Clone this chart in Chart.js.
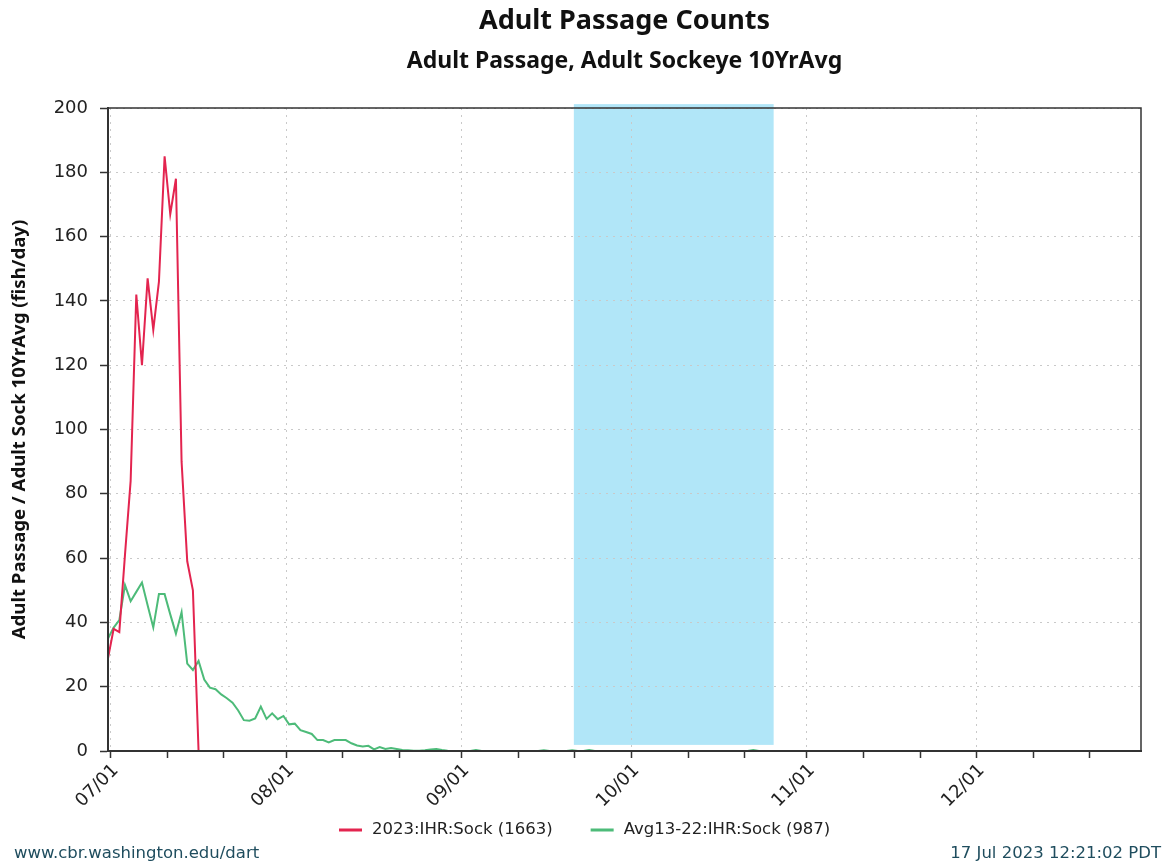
<!DOCTYPE html>
<html>
<head>
<meta charset="utf-8">
<script src="https://cdn.jsdelivr.net/npm/chart.js@4/dist/chart.umd.min.js"></script>
<style>
  html, body { margin: 0; padding: 0; background: #fff; }
  #wrap { width: 1170px; height: 865px; position: relative; }
</style>
</head>
<body>
<div id="wrap"><canvas id="c" width="1170" height="865"></canvas></div>
<script>
// Day offsets from 07/01 for the axis ticks (1st, 11th, 21st of each month)
const tickDays = [0, 10, 20, 31, 41, 51, 62, 72, 82, 92, 102, 112, 123, 133, 143, 153, 163, 173];
const tickLabels = ['07/01', '', '', '08/01', '', '', '09/01', '', '', '10/01', '', '', '11/01', '', '', '12/01', '', ''];
// Ticks sit at local midnight, slightly after the daily sample time
const TICK_SHIFT = 0.48;

const seriesNames = ['2023:IHR:Sock (1663)', 'Avg13-22:IHR:Sock (987)'];

// 2023 daily counts, one value per day starting 07/01
const sock2023 = [
  28.8, 38, 37, 61, 84, 142, 120, 147, 131, 146,
  185, 167, 178, 90, 59, 50, 0, 0, 0, 0,
  0, 0, 0, 0, 0, 0, 0, 0, 0, 0,
  0, 0, 0, 0, 0, 0, 0, 0, 0, 0,
  0, 0, 0, 0, 0, 0, 0, 0, 0, 0,
  0, 0, 0, 0, 0, 0, 0, 0, 0, 0,
  0, 0, 0, 0, 0, 0, 0, 0, 0, 0,
  0, 0, 0, 0, 0, 0, 0, 0, 0, 0,
  0, 0, 0, 0, 0, 0, 0, 0, 0, 0,
  0, 0, 0, 0, 0, 0, 0, 0, 0, 0,
  0, 0, 0, 0, 0, 0, 0, 0, 0, 0,
  0, 0, 0, 0, 0, 0, 0, 0, 0, 0,
  0, 0, 0, 0, 0, 0, 0, 0, 0, 0,
  0, 0, 0, 0, 0, 0, 0, 0, 0, 0,
  0, 0, 0, 0, 0, 0, 0, 0, 0, 0,
  0, 0, 0, 0, 0, 0, 0, 0, 0, 0,
  0, 0, 0, 0, 0, 0, 0, 0, 0, 0,
  0, 0, 0, 0, 0, 0, 0, 0, 0, 0,
  0, 0, 0
];

// 2013-2022 average daily counts, one value per day starting 07/01
const sockAvg13to22 = [
  35.0, 38.4, 40.7, 51.6, 46.6, 49.5, 52.4, 45.3, 38.4, 48.8,
  48.8, 42.5, 36.5, 43.2, 27.2, 25.2, 28.0, 22.2, 19.7, 19.2,
  17.6, 16.4, 15.0, 12.6, 9.6, 9.4, 10.1, 13.8, 10.0, 11.7,
  9.9, 10.9, 8.3, 8.5, 6.5, 5.9, 5.3, 3.4, 3.4, 2.7,
  3.4, 3.4, 3.4, 2.4, 1.7, 1.4, 1.6, 0.5, 1.2, 0.6,
  0.9, 0.6, 0.3, 0.2, 0.1, 0.1, 0.2, 0.5, 0.6, 0.3,
  0.1, 0, 0, 0, 0, 0.3, 0, 0, 0, 0,
  0, 0, 0, 0, 0, 0, 0, 0.2, 0, 0,
  0, 0, 0.2, 0, 0, 0.3, 0, 0, 0, 0,
  0, 0, 0, 0, 0, 0, 0, 0, 0, 0,
  0, 0, 0, 0, 0, 0, 0, 0, 0, 0,
  0, 0, 0, 0, 0.3, 0, 0, 0, 0, 0,
  0, 0, 0, 0, 0, 0, 0, 0, 0, 0,
  0, 0, 0, 0, 0, 0, 0, 0, 0, 0,
  0, 0, 0, 0, 0, 0, 0, 0, 0, 0,
  0, 0, 0, 0, 0, 0, 0, 0, 0, 0,
  0, 0, 0, 0, 0, 0, 0, 0, 0, 0,
  0, 0, 0, 0, 0, 0, 0, 0, 0, 0,
  0, 0, 0
];

// Shaded period (day offsets) and its vertical extent (fish/day)
const shadeDays = [82.3, 117.6];
const shadeValues = [1.9, 201.2];

const yTicks = { min: 0, max: 200, step: 20 };

const toPoints = arr => arr.map((v, i) => ({ x: i, y: v }));

const FONT_TICK = 'DejaVu Sans';
const FONT_TITLE = 'Noto Sans';

const shadePlugin = {
  id: 'shade',
  beforeDraw(chart) {
    const { ctx, scales: { x, y } } = chart;
    const x0 = x.getPixelForValue(shadeDays[0]);
    const x1 = x.getPixelForValue(shadeDays[1]);
    const y0 = y.getPixelForValue(shadeValues[1]);
    const y1 = y.getPixelForValue(shadeValues[0]);
    ctx.save();
    ctx.fillStyle = '#b1e6f8';
    ctx.fillRect(x0, y0, x1 - x0, y1 - y0);
    ctx.restore();
  }
};

// Frame, legend row and footer lines
const decorPlugin = {
  id: 'decor',
  afterDraw(chart) {
    const { ctx, chartArea: a } = chart;
    ctx.save();
    ctx.strokeStyle = '#333';
    ctx.lineWidth = 1.5;
    ctx.beginPath();
    ctx.moveTo(a.left, a.top);
    ctx.lineTo(a.right, a.top);
    ctx.lineTo(a.right, a.bottom);
    ctx.stroke();

    // legend
    const sw = 23, gapText = 10, gapItem = 38, legendY = 830;
    ctx.font = '16.5px "DejaVu Sans"';
    ctx.textBaseline = 'middle';
    ctx.textAlign = 'left';
    const items = chart.data.datasets.map(ds => ({
      text: ds.label, color: ds.borderColor, w: sw + gapText + ctx.measureText(ds.label).width
    }));
    const total = items.reduce((s, it) => s + it.w, 0) + gapItem * (items.length - 1);
    let x = Math.round(chart.width / 2 - total / 2);
    items.forEach(it => {
      ctx.fillStyle = it.color;
      ctx.fillRect(x, legendY - 1.5, sw, 3);
      ctx.fillStyle = '#222';
      ctx.fillText(it.text, x + sw + gapText, legendY);
      x += it.w + gapItem;
    });

    // footer
    ctx.fillStyle = '#1f4d5e';
    ctx.textBaseline = 'alphabetic';
    ctx.textAlign = 'left';
    ctx.fillText('www.cbr.washington.edu/dart', 14, 858);
    ctx.textAlign = 'right';
    ctx.fillText('17 Jul 2023 12:21:02 PDT', 1161, 858);
    ctx.restore();
  }
};

new Chart(document.getElementById('c'), {
  type: 'line',
  data: {
    datasets: [
      {
        label: seriesNames[0],
        data: toPoints(sock2023),
        borderColor: '#e3244f',
        backgroundColor: '#e3244f',
        borderWidth: 2,
        pointRadius: 0,
        tension: 0
      },
      {
        label: seriesNames[1],
        data: toPoints(sockAvg13to22),
        borderColor: '#4dbb79',
        backgroundColor: '#4dbb79',
        borderWidth: 2,
        pointRadius: 0,
        tension: 0
      }
    ]
  },
  options: {
    responsive: false,
    animation: false,
    devicePixelRatio: 1,
    layout: { padding: { left: 0, right: 29, top: 0, bottom: 52 } },
    plugins: {
      title: {
        display: true,
        text: 'Adult Passage Counts',
        fullSize: false,
        color: '#111',
        font: { family: FONT_TITLE, size: 27, weight: 'bold' },
        padding: { top: 4.8, bottom: 4 }
      },
      subtitle: {
        display: true,
        text: 'Adult Passage, Adult Sockeye 10YrAvg',
        fullSize: false,
        color: '#111',
        font: { family: FONT_TITLE, size: 23, weight: 'bold' },
        padding: { top: 6, bottom: 33.2 }
      },
      legend: { display: false },
      tooltip: { enabled: false }
    },
    scales: {
      x: {
        type: 'linear',
        min: 0,
        max: 182.5,
        afterBuildTicks(scale) {
          scale.ticks = tickDays.map(d => ({ value: d + TICK_SHIFT }));
        },
        afterFit(scale) { scale.height = 62; },
        ticks: {
          autoSkip: false,
          maxRotation: 45,
          minRotation: 45,
          padding: 2,
          labelOffset: 5,
          color: '#222',
          font: { family: FONT_TICK, size: 18 },
          callback: (value, index) => tickLabels[index]
        },
        grid: {
          color: ctx => (ctx.index % 3 === 0 ? '#c9c9c9' : 'rgba(0,0,0,0)'),
          lineWidth: 1,
          tickLength: 7,
          tickColor: '#333',
          tickWidth: 1.5
        },
        border: { display: true, color: '#333', width: 2, dash: [2, 5], z: 1 }
      },
      y: {
        min: yTicks.min,
        max: yTicks.max,
        afterFit(scale) { scale.width = 108; },
        ticks: {
          stepSize: yTicks.step,
          padding: 12,
          color: '#222',
          font: { family: FONT_TICK, size: 18 }
        },
        grid: {
          color: '#c9c9c9',
          lineWidth: 1,
          tickLength: 8,
          tickColor: '#333',
          tickWidth: 1.5
        },
        border: { display: true, color: '#333', width: 2, dash: [2, 5], z: 1 },
        title: {
          display: true,
          text: 'Adult Passage / Adult Sock 10YrAvg (fish/day)',
          color: '#111',
          font: { family: FONT_TITLE, size: 18.6, weight: 'bold' },
          padding: { top: 9, bottom: 0 }
        }
      }
    }
  },
  plugins: [shadePlugin, decorPlugin]
});
</script>
</body>
</html>
